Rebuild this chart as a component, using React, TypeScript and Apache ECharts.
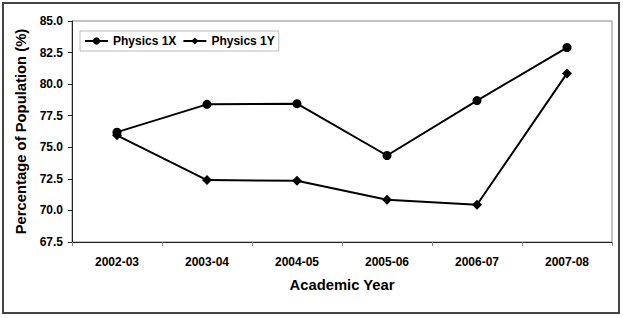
import React, { useEffect, useRef } from "react";
import * as echarts from "echarts";

const categories = ["2002-03", "2003-04", "2004-05", "2005-06", "2006-07", "2007-08"];
const physics1X = [76.2, 78.4, 78.45, 74.35, 78.7, 82.9];
const physics1Y = [75.95, 72.4, 72.35, 70.85, 70.45, 80.85];
const seriesNames = ["Physics 1X", "Physics 1Y"];

const FONT = "Liberation Sans, Arial, sans-serif";

export default function App() {
  const ref = useRef<HTMLDivElement>(null);
  useEffect(() => {
    if (!ref.current) return;
    const chart = echarts.init(ref.current, undefined, { renderer: "svg" });
    chart.setOption({
      animation: false,
      backgroundColor: "#ffffff",
      textStyle: { fontFamily: FONT },
      graphic: [
        {
          type: "rect",
          shape: { x: 3, y: 3, width: 616, height: 310 },
          style: { fill: "none", stroke: "#444444", lineWidth: 2 },
          silent: true,
        },
      ],
      grid: {
        left: 72,
        top: 21,
        right: 11,
        bottom: 76,
        show: true,
        borderColor: "#888888",
        borderWidth: 1,
        backgroundColor: "transparent",
      },
      legend: {
        left: 80,
        top: 31,
        orient: "horizontal",
        data: seriesNames,
        itemWidth: 23,
        itemHeight: 9,
        itemGap: 6,
        padding: [4, 4, 4, 4],
        borderColor: "#bbbbbb",
        borderWidth: 1,
        textStyle: { fontFamily: FONT, fontWeight: "bold", fontSize: 12, color: "#000" },
      },
      xAxis: {
        type: "category",
        data: categories,
        boundaryGap: true,
        name: "Academic Year",
        nameLocation: "middle",
        nameGap: 35,
        nameTextStyle: { fontFamily: FONT, fontWeight: "bold", fontSize: 14.8, color: "#000" },
        axisLine: { lineStyle: { color: "#222", width: 1 } },
        axisTick: { show: true, length: 4, inside: false, lineStyle: { color: "#888" } },
        axisLabel: { margin: 14, fontFamily: FONT, fontWeight: "bold", fontSize: 12, color: "#000" },
        splitLine: { show: false },
      },
      yAxis: {
        type: "value",
        min: 67.5,
        max: 85,
        interval: 2.5,
        name: "Percentage of Population (%)",
        nameLocation: "middle",
        nameGap: 38,
        nameTextStyle: { fontFamily: FONT, fontWeight: "bold", fontSize: 14.8, color: "#000" },
        axisLine: { show: true, lineStyle: { color: "#222", width: 1 } },
        axisTick: { show: true, length: 4, inside: false, lineStyle: { color: "#222" } },
        axisLabel: {
          margin: 9,
          fontFamily: FONT,
          fontWeight: "bold",
          fontSize: 12,
          color: "#000",
          formatter: (v: number) => v.toFixed(1),
        },
        splitLine: { show: false },
      },
      series: [
        {
          name: seriesNames[0],
          type: "line",
          data: physics1X,
          symbol: "circle",
          symbolSize: 9,
          lineStyle: { color: "#000", width: 2 },
          itemStyle: { color: "#000" },
        },
        {
          name: seriesNames[1],
          type: "line",
          data: physics1Y,
          symbol: "diamond",
          symbolSize: 10,
          lineStyle: { color: "#000", width: 2 },
          itemStyle: { color: "#000" },
        },
      ],
    });
    return () => chart.dispose();
  }, []);
  return (
    <div
      ref={ref}
      style={{ position: "fixed", left: 0, top: 0, width: 623, height: 318, background: "#fff" }}
    />
  );
}
